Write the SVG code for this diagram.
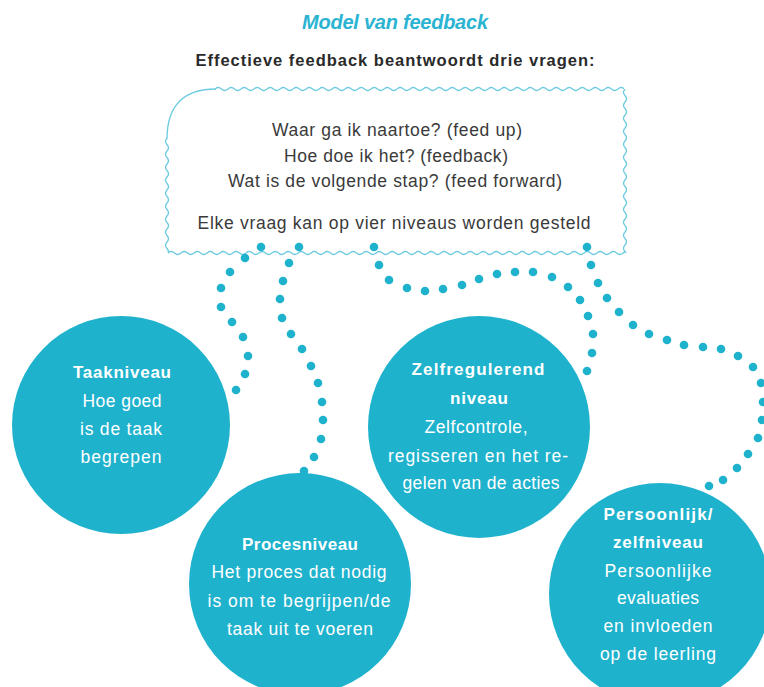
<svg xmlns="http://www.w3.org/2000/svg" width="764" height="687" viewBox="0 0 764 687">
<defs>
<pattern id="wh" width="13" height="6" patternUnits="userSpaceOnUse"><path d="M-6.5,3 Q-3.25,6 0,3 T6.5,3 T13,3 T19.5,3" fill="none" stroke="#6ccbe0" stroke-width="1.3"/></pattern>
<pattern id="wv" width="6" height="13" patternUnits="userSpaceOnUse"><path d="M3,-6.5 Q6,-3.25 3,0 T3,6.5 T3,13 T3,19.5" fill="none" stroke="#6ccbe0" stroke-width="1.3"/></pattern>
</defs>
<style>
.bg{fill:#ffffff}
.corner{fill:none;stroke:#6ccbe0;stroke-width:1.3}
.node{fill:#1fb2cd}
.dot{fill:#1fb2cd}
.title{font-family:"Liberation Sans",Arial,sans-serif;font-weight:bold;font-style:italic;font-size:20px;fill:#2bb4d2}
.head{font-family:"Liberation Sans",Arial,sans-serif;font-weight:bold;font-size:16.5px;fill:#2a2a2a}
.q{font-family:"Liberation Sans",Arial,sans-serif;font-size:17.5px;fill:#3a3a3a}
.nt{font-family:"Liberation Sans",Arial,sans-serif;font-weight:bold;font-size:17px;fill:#ffffff}
.nx{font-family:"Liberation Sans",Arial,sans-serif;font-size:17.5px;fill:#ffffff}
</style>
<rect class="bg" x="0" y="0" width="764" height="687"/>
<g id="header">
<text class="title" x="395" y="29" text-anchor="middle" textLength="186">Model van feedback</text>
<text class="head" x="395" y="66" text-anchor="middle" textLength="399">Effectieve feedback beantwoordt drie vragen:</text>
</g>
<g id="questions">
<rect x="0" y="0" width="409" height="6" fill="url(#wh)" transform="translate(215,86)"/>
<rect x="0" y="0" width="6" height="164" fill="url(#wv)" transform="translate(622,89)"/>
<rect x="0" y="0" width="457" height="6" fill="url(#wh)" transform="translate(168,250)"/>
<rect x="0" y="0" width="6" height="115" fill="url(#wv)" transform="translate(164,138)"/>
<path class="corner" d="M167,139 Q167,89 216,89"/>
<text class="q" x="397" y="136" text-anchor="middle" textLength="250">Waar ga ik naartoe? (feed up)</text>
<text class="q" x="396" y="162" text-anchor="middle" textLength="224">Hoe doe ik het? (feedback)</text>
<text class="q" x="395" y="187" text-anchor="middle" textLength="334">Wat is de volgende stap? (feed forward)</text>
<text class="q" x="394" y="229" text-anchor="middle" textLength="393">Elke vraag kan op vier niveaus worden gesteld</text>
</g>
<g id="connectors">
<circle class="dot" cx="261" cy="247" r="4.3"/><circle class="dot" cx="245" cy="258" r="4.3"/><circle class="dot" cx="230" cy="272" r="4.3"/><circle class="dot" cx="221" cy="288" r="4.3"/><circle class="dot" cx="221" cy="307" r="4.3"/><circle class="dot" cx="232" cy="322" r="4.3"/><circle class="dot" cx="243" cy="337" r="4.3"/><circle class="dot" cx="248" cy="356" r="4.3"/><circle class="dot" cx="245" cy="374" r="4.3"/><circle class="dot" cx="236" cy="390" r="4.3"/>
<circle class="dot" cx="299" cy="247" r="4.3"/><circle class="dot" cx="289" cy="263" r="4.3"/><circle class="dot" cx="283" cy="281" r="4.3"/><circle class="dot" cx="280" cy="299" r="4.3"/><circle class="dot" cx="282" cy="318" r="4.3"/><circle class="dot" cx="291" cy="334" r="4.3"/><circle class="dot" cx="302" cy="349" r="4.3"/><circle class="dot" cx="311" cy="366" r="4.3"/><circle class="dot" cx="318" cy="383" r="4.3"/><circle class="dot" cx="322" cy="402" r="4.3"/><circle class="dot" cx="323" cy="420" r="4.3"/><circle class="dot" cx="321" cy="439" r="4.3"/><circle class="dot" cx="314" cy="457" r="4.3"/><circle class="dot" cx="304" cy="471" r="4.3"/>
<circle class="dot" cx="374" cy="247" r="4.3"/><circle class="dot" cx="379" cy="265" r="4.3"/><circle class="dot" cx="389" cy="280" r="4.3"/><circle class="dot" cx="407" cy="288" r="4.3"/><circle class="dot" cx="425" cy="291" r="4.3"/><circle class="dot" cx="443" cy="289" r="4.3"/><circle class="dot" cx="462" cy="285" r="4.3"/><circle class="dot" cx="479" cy="279" r="4.3"/><circle class="dot" cx="497" cy="274" r="4.3"/><circle class="dot" cx="515" cy="272" r="4.3"/><circle class="dot" cx="533" cy="272" r="4.3"/><circle class="dot" cx="552" cy="277" r="4.3"/><circle class="dot" cx="568" cy="287" r="4.3"/><circle class="dot" cx="580" cy="300" r="4.3"/><circle class="dot" cx="588" cy="316" r="4.3"/><circle class="dot" cx="593" cy="334" r="4.3"/><circle class="dot" cx="592" cy="353" r="4.3"/><circle class="dot" cx="587" cy="371" r="4.3"/>
<circle class="dot" cx="587" cy="247" r="4.3"/><circle class="dot" cx="591" cy="265" r="4.3"/><circle class="dot" cx="598" cy="283" r="4.3"/><circle class="dot" cx="607" cy="298" r="4.3"/><circle class="dot" cx="619" cy="312" r="4.3"/><circle class="dot" cx="633" cy="325" r="4.3"/><circle class="dot" cx="649" cy="334" r="4.3"/><circle class="dot" cx="667" cy="340" r="4.3"/><circle class="dot" cx="684" cy="345" r="4.3"/><circle class="dot" cx="703" cy="347" r="4.3"/><circle class="dot" cx="721" cy="349" r="4.3"/><circle class="dot" cx="738" cy="356" r="4.3"/><circle class="dot" cx="753" cy="367" r="4.3"/><circle class="dot" cx="761" cy="383" r="4.3"/><circle class="dot" cx="763" cy="402" r="4.3"/><circle class="dot" cx="762" cy="420" r="4.3"/><circle class="dot" cx="758" cy="438" r="4.3"/><circle class="dot" cx="748" cy="454" r="4.3"/><circle class="dot" cx="737" cy="468" r="4.3"/><circle class="dot" cx="723" cy="480" r="4.3"/><circle class="dot" cx="709" cy="486" r="4.3"/>
</g>
<g id="taakniveau">
<circle class="node" cx="121" cy="425" r="109"/>
<text class="nt" x="122" y="378" text-anchor="middle" textLength="98">Taakniveau</text>
<text class="nx" x="122" y="407" text-anchor="middle" textLength="79">Hoe goed</text>
<text class="nx" x="121" y="435" text-anchor="middle" textLength="82">is de taak</text>
<text class="nx" x="121" y="463" text-anchor="middle" textLength="81">begrepen</text>
</g>
<g id="zelfregulerend">
<circle class="node" cx="479" cy="427" r="111"/>
<text class="nt" x="478" y="375" text-anchor="middle" textLength="133">Zelfregulerend</text>
<text class="nt" x="479" y="404" text-anchor="middle" textLength="58">niveau</text>
<text class="nx" x="476" y="433" text-anchor="middle" textLength="103">Zelfcontrole,</text>
<text class="nx" x="478" y="462" text-anchor="middle" textLength="180">regisseren en het re-</text>
<text class="nx" x="481" y="489" text-anchor="middle" textLength="157">gelen van de acties</text>
</g>
<g id="procesniveau">
<circle class="node" cx="300" cy="584" r="111"/>
<text class="nt" x="300" y="550" text-anchor="middle" textLength="116">Procesniveau</text>
<text class="nx" x="299" y="578" text-anchor="middle" textLength="175">Het proces dat nodig</text>
<text class="nx" x="299" y="607" text-anchor="middle" textLength="183">is om te begrijpen/de</text>
<text class="nx" x="300" y="635" text-anchor="middle" textLength="146">taak uit te voeren</text>
</g>
<g id="persoonlijk">
<circle class="node" cx="660" cy="594" r="111"/>
<text class="nt" x="658" y="520" text-anchor="middle" textLength="109">Persoonlijk/</text>
<text class="nt" x="658" y="548" text-anchor="middle" textLength="90">zelfniveau</text>
<text class="nx" x="658" y="577" text-anchor="middle" textLength="107">Persoonlijke</text>
<text class="nx" x="658" y="604" text-anchor="middle" textLength="82">evaluaties</text>
<text class="nx" x="658" y="632" text-anchor="middle" textLength="109">en invloeden</text>
<text class="nx" x="658" y="660" text-anchor="middle" textLength="116">op de leerling</text>
</g>
</svg>
